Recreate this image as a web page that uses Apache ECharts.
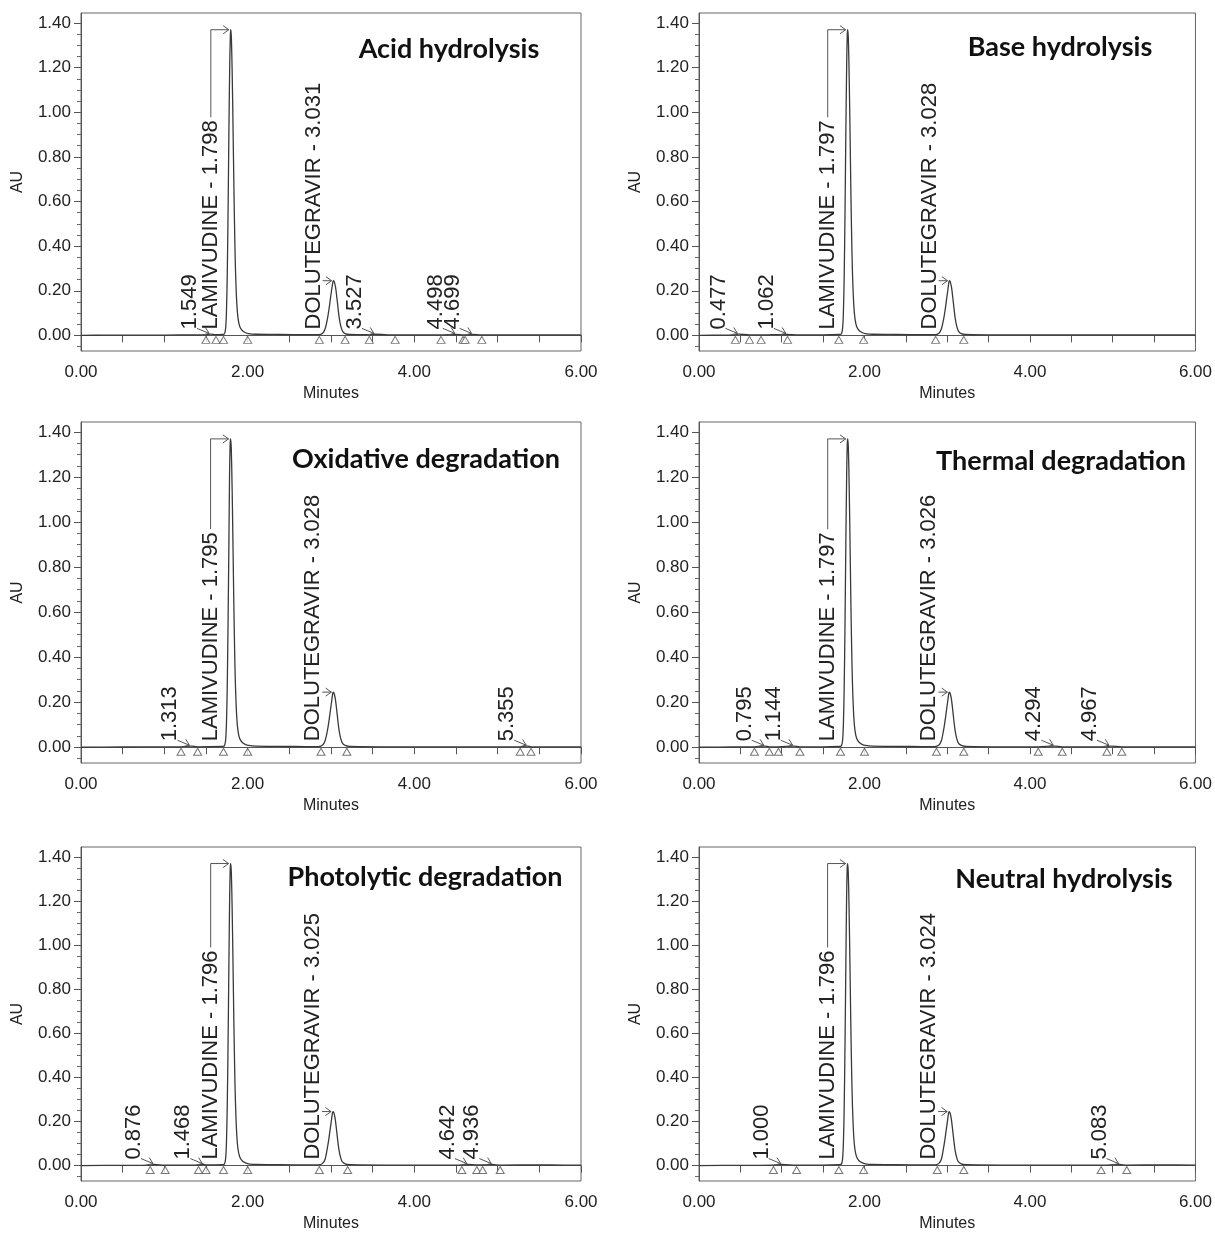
<!DOCTYPE html>
<html>
<head>
<meta charset="utf-8">
<script src="https://cdn.jsdelivr.net/npm/echarts@6/dist/echarts.min.js"></script>
<style>
  html, body { margin: 0; padding: 0; background: #fff; }
  #chart { width: 1215px; height: 1233px; }
</style>
</head>
<body>
<div id="chart"></div>
<script>
// ---- axis ticks ----
const yLabelValues = [0, 0.2, 0.4, 0.6, 0.8, 1.0, 1.2, 1.4];
const yMinorValues = [-0.05, 0.05, 0.10, 0.15, 0.25, 0.30, 0.35, 0.45, 0.50, 0.55, 0.65, 0.70, 0.75,
  0.85, 0.90, 0.95, 1.05, 1.10, 1.15, 1.25, 1.30, 1.35];
const xTickValues = [0, 0.5, 1, 1.5, 2, 2.5, 3, 3.5, 4, 4.5, 5, 5.5, 6];
const xLabelValues = [0, 2, 4, 6];

// ---- traces [minutes, AU] ----
const acidTrace = [
  [0.00, 0.000], [0.30, 0.001], [0.80, 0.001], [1.20, 0.002], [1.50, 0.002], [1.549, 0.006], [1.62, 0.003], [1.70, 0.004],
  [1.72, 0.006], [1.735, 0.03], [1.745, 0.10], [1.755, 0.27], [1.765, 0.56], [1.775, 0.92], [1.785, 1.22], [1.793, 1.35],
  [1.798, 1.37], [1.805, 1.33], [1.815, 1.16], [1.825, 0.92], [1.835, 0.66], [1.845, 0.44], [1.855, 0.28], [1.87, 0.14],
  [1.885, 0.075], [1.905, 0.04], [1.935, 0.022], [1.97, 0.013], [2.01, 0.008], [2.10, 0.005], [2.40, 0.004], [2.70, 0.003],
  [2.85, 0.003], [2.90, 0.01], [2.93, 0.03], [2.955, 0.07], [2.975, 0.115], [2.995, 0.17], [3.01, 0.21], [3.022, 0.238],
  [3.031, 0.245], [3.04, 0.24], [3.055, 0.215], [3.07, 0.17], [3.085, 0.12], [3.10, 0.075], [3.12, 0.038], [3.14, 0.018],
  [3.17, 0.008], [3.22, 0.004], [3.46, 0.003], [3.527, 0.005], [3.77, 0.002], [4.32, 0.002], [4.498, 0.004], [4.60, 0.002],
  [4.699, 0.004], [4.81, 0.002], [5.40, 0.002], [6.00, 0.002]
];
const baseTrace = [
  [0.00, 0.000], [0.30, 0.001], [0.44, 0.002], [0.477, 0.006], [0.61, 0.002], [0.75, 0.002], [1.062, 0.004], [1.20, 0.002],
  [1.50, 0.002], [1.70, 0.004],
  [1.72, 0.006], [1.735, 0.03], [1.745, 0.10], [1.755, 0.27], [1.765, 0.56], [1.775, 0.92], [1.785, 1.22], [1.792, 1.35],
  [1.797, 1.37], [1.805, 1.33], [1.815, 1.16], [1.825, 0.92], [1.835, 0.66], [1.845, 0.44], [1.855, 0.28], [1.87, 0.14],
  [1.885, 0.075], [1.905, 0.04], [1.935, 0.022], [1.97, 0.013], [2.01, 0.008], [2.10, 0.005], [2.40, 0.004], [2.70, 0.003],
  [2.85, 0.003], [2.90, 0.01], [2.93, 0.03], [2.955, 0.07], [2.975, 0.115], [2.995, 0.17], [3.01, 0.21], [3.02, 0.238],
  [3.028, 0.245], [3.037, 0.24], [3.052, 0.215], [3.067, 0.17], [3.082, 0.12], [3.097, 0.075], [3.117, 0.038], [3.137, 0.018],
  [3.17, 0.008], [3.22, 0.004], [3.60, 0.002], [4.50, 0.002], [5.40, 0.002], [6.00, 0.002]
];
const oxidTrace = [
  [0.00, 0.000], [0.50, 0.001], [1.00, 0.002], [1.20, 0.002], [1.313, 0.005], [1.40, 0.002], [1.70, 0.004],
  [1.72, 0.006], [1.735, 0.03], [1.745, 0.10], [1.755, 0.27], [1.765, 0.56], [1.775, 0.92], [1.783, 1.22], [1.790, 1.35],
  [1.795, 1.37], [1.803, 1.33], [1.813, 1.16], [1.823, 0.92], [1.833, 0.66], [1.843, 0.44], [1.853, 0.28], [1.868, 0.14],
  [1.883, 0.075], [1.903, 0.04], [1.933, 0.022], [1.97, 0.013], [2.01, 0.008], [2.10, 0.005], [2.40, 0.004], [2.70, 0.003],
  [2.85, 0.003], [2.90, 0.01], [2.93, 0.03], [2.955, 0.07], [2.975, 0.115], [2.995, 0.17], [3.01, 0.21], [3.02, 0.238],
  [3.028, 0.245], [3.037, 0.24], [3.052, 0.215], [3.067, 0.17], [3.082, 0.12], [3.097, 0.075], [3.117, 0.038], [3.137, 0.018],
  [3.17, 0.008], [3.22, 0.004], [3.80, 0.002], [4.60, 0.002], [5.27, 0.002], [5.355, 0.005], [5.40, 0.002], [6.00, 0.002]
];
const thermTrace = [
  [0.00, 0.000], [0.40, 0.001], [0.67, 0.002], [0.795, 0.005], [0.85, 0.002], [0.96, 0.002], [1.144, 0.005], [1.22, 0.002],
  [1.50, 0.002], [1.70, 0.004],
  [1.72, 0.006], [1.735, 0.03], [1.745, 0.10], [1.755, 0.27], [1.765, 0.56], [1.775, 0.92], [1.785, 1.22], [1.792, 1.35],
  [1.797, 1.37], [1.805, 1.33], [1.815, 1.16], [1.825, 0.92], [1.835, 0.66], [1.845, 0.44], [1.855, 0.28], [1.87, 0.14],
  [1.885, 0.075], [1.905, 0.04], [1.935, 0.022], [1.97, 0.013], [2.01, 0.008], [2.10, 0.005], [2.40, 0.004], [2.70, 0.003],
  [2.85, 0.003], [2.90, 0.01], [2.93, 0.03], [2.953, 0.07], [2.973, 0.115], [2.993, 0.17], [3.008, 0.21], [3.018, 0.238],
  [3.026, 0.245], [3.035, 0.24], [3.05, 0.215], [3.065, 0.17], [3.08, 0.12], [3.095, 0.075], [3.115, 0.038], [3.135, 0.018],
  [3.17, 0.008], [3.22, 0.004], [3.70, 0.002], [4.10, 0.002], [4.294, 0.005], [4.39, 0.002], [4.93, 0.002], [4.967, 0.005],
  [5.11, 0.002], [5.60, 0.002], [6.00, 0.002]
];
const photoTrace = [
  [0.00, 0.000], [0.50, 0.001], [0.83, 0.002], [0.876, 0.005], [1.01, 0.002], [1.41, 0.002], [1.468, 0.006], [1.50, 0.003],
  [1.70, 0.004],
  [1.72, 0.006], [1.735, 0.03], [1.745, 0.10], [1.755, 0.27], [1.765, 0.56], [1.775, 0.92], [1.784, 1.22], [1.791, 1.35],
  [1.796, 1.37], [1.804, 1.33], [1.814, 1.16], [1.824, 0.92], [1.834, 0.66], [1.844, 0.44], [1.854, 0.28], [1.869, 0.14],
  [1.884, 0.075], [1.904, 0.04], [1.934, 0.022], [1.97, 0.013], [2.01, 0.008], [2.10, 0.005], [2.40, 0.004], [2.70, 0.003],
  [2.85, 0.003], [2.90, 0.01], [2.93, 0.03], [2.952, 0.07], [2.972, 0.115], [2.992, 0.17], [3.007, 0.21], [3.017, 0.238],
  [3.025, 0.245], [3.034, 0.24], [3.049, 0.215], [3.064, 0.17], [3.079, 0.12], [3.094, 0.075], [3.114, 0.038], [3.134, 0.018],
  [3.17, 0.008], [3.22, 0.004], [3.80, 0.002], [4.57, 0.002], [4.642, 0.005], [4.75, 0.003], [4.82, 0.003], [4.936, 0.005],
  [5.03, 0.002], [5.50, 0.003], [5.80, 0.002], [6.00, 0.002]
];
const neutTrace = [
  [0.00, 0.000], [0.50, 0.001], [0.90, 0.002], [1.000, 0.005], [1.18, 0.002], [1.50, 0.002], [1.69, 0.004],
  [1.72, 0.006], [1.735, 0.03], [1.745, 0.10], [1.755, 0.27], [1.765, 0.56], [1.775, 0.92], [1.784, 1.22], [1.791, 1.35],
  [1.796, 1.37], [1.804, 1.33], [1.814, 1.16], [1.824, 0.92], [1.834, 0.66], [1.844, 0.44], [1.854, 0.28], [1.869, 0.14],
  [1.884, 0.075], [1.904, 0.04], [1.934, 0.022], [1.97, 0.013], [2.01, 0.008], [2.10, 0.005], [2.40, 0.004], [2.70, 0.003],
  [2.85, 0.003], [2.90, 0.01], [2.93, 0.03], [2.951, 0.07], [2.971, 0.115], [2.991, 0.17], [3.006, 0.21], [3.016, 0.238],
  [3.024, 0.245], [3.033, 0.24], [3.048, 0.215], [3.063, 0.17], [3.078, 0.12], [3.093, 0.075], [3.113, 0.038], [3.133, 0.018],
  [3.17, 0.008], [3.22, 0.004], [4.00, 0.002], [4.86, 0.002], [5.083, 0.005], [5.17, 0.002], [5.60, 0.003], [6.00, 0.002]
];

// ---- peak labels [retention time, apex AU, label] ----
const acidPeaks = [[1.549, 0.006, '1.549'], [1.798, 1.37, 'LAMIVUDINE - 1.798'], [3.031, 0.245, 'DOLUTEGRAVIR - 3.031'],
  [3.527, 0.005, '3.527'], [4.498, 0.004, '4.498'], [4.699, 0.004, '4.699']];
const basePeaks = [[0.477, 0.006, '0.477'], [1.062, 0.004, '1.062'], [1.797, 1.37, 'LAMIVUDINE - 1.797'],
  [3.028, 0.245, 'DOLUTEGRAVIR - 3.028']];
const oxidPeaks = [[1.313, 0.005, '1.313'], [1.795, 1.37, 'LAMIVUDINE - 1.795'], [3.028, 0.245, 'DOLUTEGRAVIR - 3.028'],
  [5.355, 0.005, '5.355']];
const thermPeaks = [[0.795, 0.005, '0.795'], [1.144, 0.005, '1.144'], [1.797, 1.37, 'LAMIVUDINE - 1.797'],
  [3.026, 0.245, 'DOLUTEGRAVIR - 3.026'], [4.294, 0.005, '4.294'], [4.967, 0.005, '4.967']];
const photoPeaks = [[0.876, 0.005, '0.876'], [1.468, 0.006, '1.468'], [1.796, 1.37, 'LAMIVUDINE - 1.796'],
  [3.025, 0.245, 'DOLUTEGRAVIR - 3.025'], [4.642, 0.005, '4.642'], [4.936, 0.005, '4.936']];
const neutPeaks = [[1.000, 0.005, '1.000'], [1.796, 1.37, 'LAMIVUDINE - 1.796'], [3.024, 0.245, 'DOLUTEGRAVIR - 3.024'],
  [5.083, 0.005, '5.083']];

// ---- integration marks (minutes) ----
const acidMarks = [1.50, 1.62, 1.71, 2.00, 2.86, 3.17, 3.46, 3.77, 4.32, 4.585, 4.61, 4.81];
const baseMarks = [0.44, 0.61, 0.75, 1.07, 1.69, 1.99, 2.86, 3.20];
const oxidMarks = [1.20, 1.40, 1.71, 2.00, 2.88, 3.19, 5.27, 5.40];
const thermMarks = [0.67, 0.85, 0.96, 1.22, 1.71, 2.00, 2.87, 3.20, 4.10, 4.39, 4.93, 5.11];
const photoMarks = [0.83, 1.01, 1.41, 1.50, 1.71, 2.00, 2.86, 3.20, 4.57, 4.75, 4.82, 5.03];
const neutMarks = [0.90, 1.18, 1.69, 1.99, 2.88, 3.20, 4.86, 5.17];

const titles = ['Acid hydrolysis', 'Base hydrolysis', 'Oxidative degradation',
  'Thermal degradation', 'Photolytic degradation', 'Neutral hydrolysis'];

const panels = [
  { trace: acidTrace, peaks: acidPeaks, marks: acidMarks },
  { trace: baseTrace, peaks: basePeaks, marks: baseMarks },
  { trace: oxidTrace, peaks: oxidPeaks, marks: oxidMarks },
  { trace: thermTrace, peaks: thermPeaks, marks: thermMarks },
  { trace: photoTrace, peaks: photoPeaks, marks: photoMarks },
  { trace: neutTrace, peaks: neutPeaks, marks: neutMarks }
];

// layout
const cols = [{ left: 81, width: 500 }, { left: 699, width: 497 }];
const rows = [{ top: 13, height: 338 }, { top: 422, height: 341 }, { top: 847, height: 336 }];
const titlePos = [[449, 49], [1060, 47], [426, 459], [1061, 461], [425, 877], [1064, 879]];

const FONT = '"Liberation Sans", Arial, sans-serif';
const LABEL_SIZE = 22;
const LABEL_SHIFT = 20;
const MARK_LEVEL = -0.02;
const Y_MIN = -0.07, Y_MAX = 1.445;

const measureCtx = document.createElement('canvas').getContext('2d');
measureCtx.font = LABEL_SIZE + 'px ' + FONT;
function textLen(t) { return measureCtx.measureText(t).width; }

function arrowHead(from, tip) {
  const dx = tip[0] - from[0], dy = tip[1] - from[1];
  const L = Math.sqrt(dx * dx + dy * dy) || 1;
  const ux = dx / L, uy = dy / L;
  const a = 0.62, s = 7;
  const r1 = [ux * Math.cos(a) - uy * Math.sin(a), ux * Math.sin(a) + uy * Math.cos(a)];
  const r2 = [ux * Math.cos(-a) - uy * Math.sin(-a), ux * Math.sin(-a) + uy * Math.cos(-a)];
  return [[tip[0] - s * r1[0], tip[1] - s * r1[1]], tip, [tip[0] - s * r2[0], tip[1] - s * r2[1]]];
}

function labelSeries(peaks, gi) {
  return {
    type: 'custom',
    xAxisIndex: gi,
    yAxisIndex: gi * 2,
    clip: false,
    silent: true,
    z: 5,
    data: peaks.map(p => [p[0], p[1]]),
    renderItem: function (params, api) {
      const txt = peaks[params.dataIndex][2];
      const apex = api.coord([api.value(0), api.value(1)]);
      const base = api.coord([api.value(0), 0]);
      const len = textLen(txt);
      const cx = apex[0] - LABEL_SHIFT;
      const bottom = base[1] - 6;
      const top = bottom - len;
      let tip = [apex[0] - 2, apex[1]];
      let pts;
      if (apex[1] < top - 4) {
        pts = [[cx, top - 3], [cx, apex[1]], tip];
      } else if (apex[1] < bottom - 10) {
        pts = [[cx + 9, apex[1]], tip];
      } else {
        tip = [apex[0] - 1, base[1] - 2];
        pts = [[cx + 7, bottom - 1], tip];
      }
      const head = arrowHead(pts[pts.length - 2], tip);
      const lineStyle = { stroke: '#555', lineWidth: 1, fill: null };
      return {
        type: 'group',
        children: [
          {
            type: 'text', x: cx, y: bottom, rotation: Math.PI / 2,
            style: {
              text: txt, font: LABEL_SIZE + 'px ' + FONT, fill: '#222',
              align: 'left', verticalAlign: 'middle', textAlign: 'left', textVerticalAlign: 'middle'
            }
          },
          { type: 'polyline', shape: { points: pts }, style: lineStyle },
          { type: 'polyline', shape: { points: head }, style: lineStyle }
        ]
      };
    }
  };
}

const grid = [], xAxis = [], yAxis = [], series = [], graphic = [];
panels.forEach(function (p, i) {
  const c = cols[i % 2], r = rows[Math.floor(i / 2)];
  grid.push({
    left: c.left, width: c.width, top: r.top, height: r.height,
    show: true, borderColor: '#666', borderWidth: 1, backgroundColor: 'transparent'
  });
  xAxis.push({
    type: 'value', gridIndex: i, min: 0, max: 6,
    name: 'Minutes', nameLocation: 'middle', nameGap: 35,
    nameTextStyle: { fontFamily: FONT, fontSize: 16, color: '#222' },
    axisLine: { lineStyle: { color: '#555' } },
    axisTick: { show: true, inside: false, length: 7, customValues: xTickValues, lineStyle: { color: '#555' } },
    axisLabel: { customValues: xLabelValues, formatter: v => v.toFixed(2), fontFamily: FONT, fontSize: 17, color: '#222', margin: 13 },
    splitLine: { show: false }
  });
  yAxis.push({
    type: 'value', gridIndex: i, min: Y_MIN, max: Y_MAX,
    name: 'AU', nameLocation: 'middle', nameGap: 55,
    nameTextStyle: { fontFamily: FONT, fontSize: 16, color: '#222' },
    axisLine: { show: true, lineStyle: { color: '#555' } },
    axisTick: { show: true, inside: false, length: 7, customValues: yLabelValues, lineStyle: { color: '#555' } },
    axisLabel: { customValues: yLabelValues, formatter: v => v.toFixed(2), fontFamily: FONT, fontSize: 17, color: '#222', margin: 10 },
    splitLine: { show: false }
  });
  yAxis.push({
    type: 'value', gridIndex: i, min: Y_MIN, max: Y_MAX, position: 'left',
    axisLine: { show: false },
    axisTick: { show: true, inside: false, length: 4, customValues: yMinorValues, lineStyle: { color: '#666' } },
    axisLabel: { show: false },
    splitLine: { show: false }
  });
  series.push({
    type: 'line', xAxisIndex: i, yAxisIndex: i * 2,
    data: p.trace, showSymbol: false, smooth: 0.3,
    lineStyle: { color: '#3a3a3a', width: 1.3 },
    silent: true, z: 3
  });
  series.push({
    type: 'scatter', xAxisIndex: i, yAxisIndex: i * 2,
    data: p.marks.map(t => [t, MARK_LEVEL]),
    symbol: 'triangle', symbolSize: [8, 7],
    itemStyle: { color: '#fff', borderColor: '#555', borderWidth: 1 },
    silent: true, z: 4
  });
  series.push(labelSeries(p.peaks, i));
  graphic.push({
    type: 'text', x: titlePos[i][0], y: titlePos[i][1],
    style: {
      text: titles[i], font: 'bold 27px Lato, "Open Sans", sans-serif', fill: '#111',
      align: 'center', verticalAlign: 'middle', textAlign: 'center', textVerticalAlign: 'middle'
    }
  });
});

const chart = echarts.init(document.getElementById('chart'), null, { renderer: 'canvas' });
chart.setOption({
  animation: false,
  backgroundColor: '#fff',
  grid: grid,
  xAxis: xAxis,
  yAxis: yAxis,
  series: series,
  graphic: graphic
});
</script>
</body>
</html>
